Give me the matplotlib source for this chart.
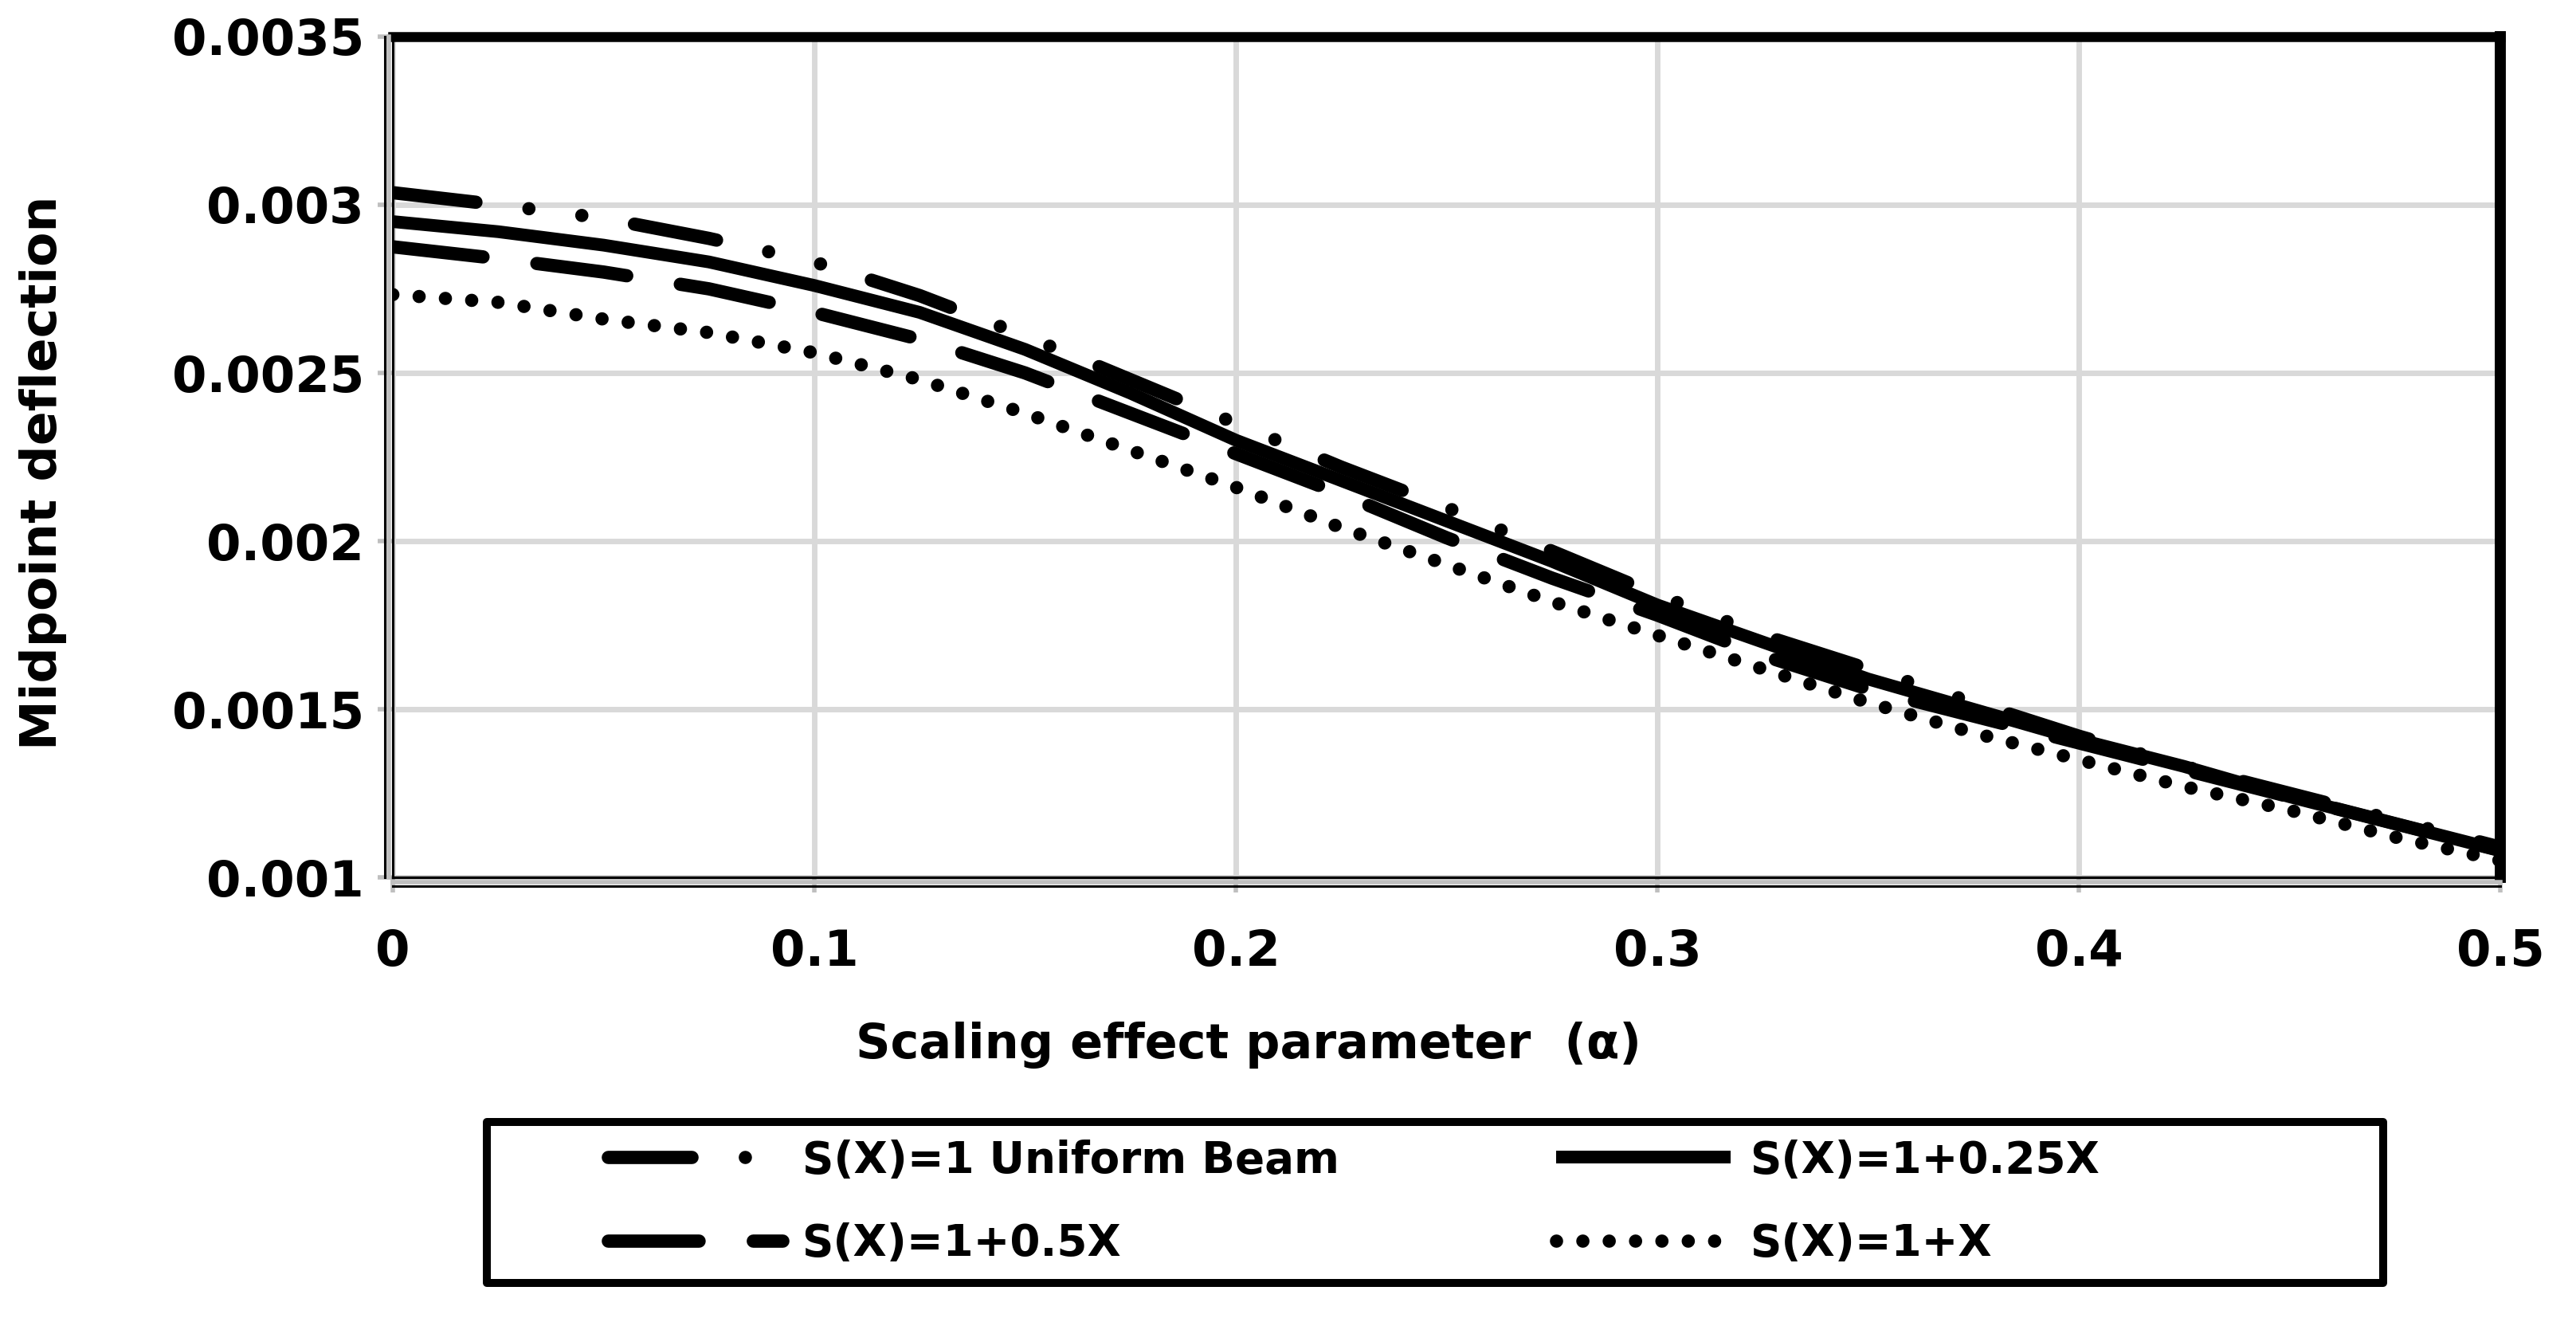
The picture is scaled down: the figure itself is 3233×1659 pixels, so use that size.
import matplotlib
matplotlib.use('Agg')
import matplotlib.pyplot as plt
from matplotlib.patches import Rectangle
from matplotlib.transforms import offset_copy

# scaling effect parameter
alpha = [0, 0.025, 0.05, 0.075, 0.1, 0.125, 0.15, 0.175, 0.2, 0.225, 0.25,
         0.275, 0.3, 0.325, 0.35, 0.375, 0.4, 0.425, 0.45, 0.475, 0.5]

# midpoint deflection, one list per beam profile
uniform = [0.003036, 0.00300, 0.00296, 0.00290, 0.00283, 0.00273, 0.00261, 0.00248, 0.00235, 0.00222, 0.00210,
           0.00197, 0.00184, 0.00172, 0.00162, 0.00152, 0.00142, 0.00133, 0.00125, 0.00117, 0.00109]
s_025 = [0.00295, 0.00292, 0.00288, 0.00283, 0.00276, 0.00268, 0.00257, 0.00244, 0.00230, 0.00218, 0.00206,
         0.00194, 0.00181, 0.00170, 0.00159, 0.00150, 0.00141, 0.00133, 0.00124, 0.00116, 0.00108]
s_05 = [0.002875, 0.00284, 0.00280, 0.00275, 0.00268, 0.00260, 0.00250, 0.00238, 0.00226, 0.00214, 0.00201,
        0.00189, 0.00178, 0.00166, 0.00156, 0.00148, 0.00140, 0.00132, 0.00124, 0.00116, 0.00108]
s_1 = [0.002733, 0.00271, 0.00266, 0.00262, 0.00256, 0.00248, 0.00238, 0.00227, 0.00216, 0.00204, 0.00193,
       0.00182, 0.00172, 0.00162, 0.00152, 0.00143, 0.00135, 0.00127, 0.00120, 0.00112, 0.00105]

labels = ['S(X)=1 Uniform Beam', 'S(X)=1+0.25X', 'S(X)=1+0.5X', 'S(X)=1+X']
xticks = [0, 0.1, 0.2, 0.3, 0.4, 0.5]
xticklabels = ['0', '0.1', '0.2', '0.3', '0.4', '0.5']
yticks = [0.001, 0.0015, 0.002, 0.0025, 0.003, 0.0035]
yticklabels = ['0.001', '0.0015', '0.002', '0.0025', '0.003', '0.0035']

plt.rcParams['font.family'] = ['DejaVu Sans']
plt.rcParams['font.weight'] = 'bold'
plt.rcParams['lines.scale_dashes'] = False

fig = plt.figure(figsize=(32.33, 16.59), dpi=100)
ax = fig.add_axes([0.1525, 0.3363, 0.8181, 0.636])

grey = '#d9d9d9'
l1, = ax.plot(alpha, uniform, color='black', lw=12, dashes=(75.6, 48.2, 0.01, 48.2, 0.01, 48.2),
              dash_capstyle='round', label=labels[0])
l2, = ax.plot(alpha, s_025, color='black', lw=11.5, solid_capstyle='butt', label=labels[1])
l3, = ax.plot(alpha, s_05, color='black', lw=12, dashes=(82, 49), dash_capstyle='round', label=labels[2])
l4, = ax.plot(alpha, s_1, color='black', lw=12, dashes=(0.01, 23.8), dash_capstyle='round', label=labels[3])

ax.set_xlim(0, 0.5)
ax.set_ylim(0.001, 0.0035)
ax.set_xticks(xticks)
ax.set_xticklabels(xticklabels)
ax.set_yticks(yticks)
ax.set_yticklabels(yticklabels)
ax.grid(True, color=grey, lw=5)
ax.set_axisbelow(True)
ax.tick_params(axis='both', colors='#bfbfbf', width=4, length=14, labelcolor='black', labelsize=45)
ax.tick_params(axis='x', pad=32)
ax.tick_params(axis='y', pad=12)

ax.spines['top'].set_linewidth(9)
ax.spines['right'].set_linewidth(10)
ax.spines['left'].set_linewidth(2.2)
ax.spines['bottom'].set_linewidth(2.5)
for s in ax.spines.values():
    s.set_color('black')
    s.set_zorder(5)

# Excel style axis: grey band plus an outer black rule along left and bottom
tl = offset_copy(ax.transAxes, fig=fig, x=-5, y=0, units='dots')
ax.plot([0, 0], [0, 1], transform=tl, color='#bfbfbf', lw=4, clip_on=False, zorder=6)
tl2 = offset_copy(ax.transAxes, fig=fig, x=-10, y=0, units='dots')
ax.plot([0, 0], [0, 1], transform=tl2, color='black', lw=2.2, clip_on=False, zorder=6)
tb = offset_copy(ax.transAxes, fig=fig, x=0, y=-6, units='dots')
ax.plot([0, 1], [0, 0], transform=tb, color='#bfbfbf', lw=4, clip_on=False, zorder=6)
tb2 = offset_copy(ax.transAxes, fig=fig, x=0, y=-11, units='dots')
ax.plot([0, 1], [0, 0], transform=tb2, color='black', lw=2.2, clip_on=False, zorder=6)

fig.text(0.0166, 0.6426, 'Midpoint deflection', rotation=90, ha='center', va='center', fontsize=45.5)
fig.text(0.4847, 0.2097, 'Scaling effect parameter  (\u03b1)', ha='center', va='center', fontsize=43.5)

# legend box
fig.patches.append(Rectangle((0.189, 0.0295), 0.7362, 0.1218, transform=fig.transFigure,
                             fill=False, edgecolor='black', lw=7.2, joinstyle='round'))
leg1 = fig.legend([l1, l3], [labels[0], labels[2]], loc='center left', bbox_to_anchor=(0.236, 0.0904),
                  frameon=False, fontsize=39.4, handlelength=4.0, handletextpad=0.45, labelspacing=0.93,
                  borderpad=0, borderaxespad=0)
leg2 = fig.legend([l2, l4], [labels[1], labels[3]], loc='center left', bbox_to_anchor=(0.604, 0.0904),
                  frameon=False, fontsize=39.4, handlelength=4.0, handletextpad=0.45, labelspacing=0.93,
                  borderpad=0, borderaxespad=0)

fig.savefig('out.png', dpi=100)
